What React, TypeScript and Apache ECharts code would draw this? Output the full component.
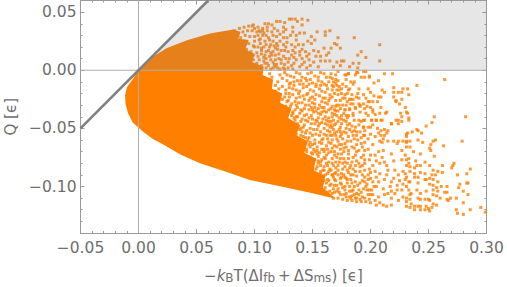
import React, { useEffect, useRef } from "react";
import * as echarts from "echarts";

const xTicks = [-0.05, 0, 0.05, 0.1, 0.15, 0.2, 0.25, 0.3];
const xMinor = [-0.04,-0.03,-0.02,-0.01,0.01,0.02,0.03,0.04,0.06,0.07,0.08,0.09,0.11,0.12,0.13,0.14,0.16,0.17,0.18,0.19,0.21,0.22,0.23,0.24,0.26,0.27,0.28,0.29];
const yTicks = [-0.1, -0.05, 0, 0.05];
const yMinor = [-0.13,-0.12,-0.11,-0.09,-0.08,-0.07,-0.06,-0.04,-0.03,-0.02,-0.01,0.01,0.02,0.03,0.04];

const diagonal = [[-0.05,-0.05],[0.06,0.06]];
const heatRegion = [[0,0],[0.06,0.06],[0.3,0.06],[0.3,0]];
const denseBlob = [[-0.0116,-0.0215],[-0.01,-0.0146],[-0.0045,-0.007],[0,0],[0.012,0.0115],[0.0241,0.0189],[0.0418,0.0258],[0.0616,0.0316],[0.0817,0.035],[0.088,0.033],[0.086,0.027],[0.095,0.026],[0.092,0.018],[0.1,0.014],[0.098,0.007],[0.108,0.003],[0.107,-0.004],[0.116,-0.008],[0.115,-0.016],[0.124,-0.02],[0.122,-0.028],[0.132,-0.033],[0.129,-0.041],[0.139,-0.047],[0.136,-0.056],[0.146,-0.061],[0.143,-0.071],[0.153,-0.076],[0.151,-0.086],[0.161,-0.091],[0.159,-0.101],[0.17,-0.1105],[0.15,-0.1057],[0.125,-0.1005],[0.096,-0.0945],[0.076,-0.0876],[0.053,-0.08],[0.036,-0.0725],[0.021,-0.0636],[0.012,-0.059],[0.004,-0.053],[-0.005,-0.045],[-0.009,-0.037],[-0.0112,-0.029]];

const pointsAboveEdge = [[.083,.034],[.087,.036],[.091,.037],[.095,.038],[.098,.038],[.103,.037],[.107,.036],[.086,.032],[.09,.033],[.094,.034],[.098,.034],[.103,.03],[.107,.034],[.111,.034],[.115,.033],[.12,.034],[.125,.033],[.088,.028],[.092,.03],[.096,.029],[.1,.025],[.105,.023],[.11,.022],[.114,.022],[.12,.018],[.125,.028],[.086,.024],[.091,.025],[.095,.023],[.099,.021],[.103,.02],[.108,.02],[.113,.02],[.089,.019],[.093,.018],[.097,.016],[.102,.015],[.106,.014],[.11,.01],[.114,.009],[.118,.013],[.123,.009],[.091,.013],[.095,.011],[.099,.009],[.104,.009],[.108,.008],[.112,.004],[.116,.002],[.12,.002],[.094,.006],[.098,.005],[.102,.003],[.106,.004]];

const pointsUpper = [[.099,.039],[.109,.04],[.112,.04],[.115,.039],[.119,.042],[.122,.042],[.126,.041],[.13,.044],[.132,.044],[.135,.044],[.141,.044],[.146,.043],[.137,.042],[.141,.039],[.133,.037],[.133,.033],[.139,.032],[.143,.032],[.154,.033],[.165,.034],[.161,.033],[.161,.03],[.172,.028],[.186,.028],[.208,.022],[.149,.029],[.136,.026],[.128,.028],[.119,.029],[.113,.026],[.108,.032],[.102,.033],[.1,.029],[.105,.027],[.119,.023],[.125,.022],[.132,.022],[.138,.022],[.142,.022],[.149,.023],[.169,.023],[.171,.022],[.174,.019],[.166,.019],[.16,.019],[.155,.016],[.151,.017],[.144,.016],[.139,.016],[.133,.017],[.129,.016],[.123,.017],[.118,.019],[.112,.017],[.106,.017],[.1,.02],[.192,.016],[.189,.013],[.196,.011],[.208,.008],[.164,.015],[.162,.013],[.157,.012],[.153,.012],[.145,.012],[.139,.013],[.132,.013],[.125,.012],[.121,.01],[.115,.013],[.109,.013],[.103,.012],[.099,.013],[.165,.008],[.175,.008],[.177,.008],[.171,.007],[.161,.008],[.157,.008],[.151,.007],[.143,.007],[.136,.009],[.129,.007],[.123,.006],[.116,.007],[.109,.006],[.102,.006],[.185,.006],[.19,.006],[.182,.003],[.189,.002],[.174,.004],[.168,.003],[.155,.003],[.148,.004],[.139,.003],[.132,.004],[.125,.002],[.118,.003],[.11,.002],[.103,.002],[.098,.002]];

const pointsUpperExtra = [[.1,.036],[.105,.033],[.11,.03],[.116,.03],[.122,.031],[.127,.035],[.104,.026],[.109,.025],[.116,.025],[.122,.025],[.128,.024],[.106,.019],[.11,.016],[.116,.016],[.12,.021],[.127,.02],[.135,.02],[.108,.011],[.113,.012],[.118,.009],[.127,.01],[.134,.011],[.141,.01],[.111,.006],[.119,.005],[.126,.005],[.134,.006],[.141,.005],[.147,.009],[.106,.001],[.114,.001],[.122,.001],[.129,.002],[.107,.03],[.112,.028],[.117,.021],[.121,.014],[.126,.017],[.13,.01],[.135,.015],[.141,.018],[.147,.014],[.125,.037],[.117,.036],[.111,.037],[.131,.03],[.136,.03],[.146,.025],[.152,.026],[.104,.034],[.114,.015],[.117,.005],[.126,.001],[.133,.001],[.145,.002]];

const pointsRightMiddle = [[.212,-.003],[.219,-.003],[.264,-.008],[.24,-.013],[.282,-.04],[.255,-.04],[.253,-.045],[.248,-.048],[.24,-.051],[.236,-.053],[.231,-.036],[.233,-.041],[.233,-.043],[.226,-.037],[.224,-.043],[.224,-.046],[.218,-.046],[.213,-.037],[.209,-.032],[.228,-.061],[.224,-.061],[.22,-.061],[.215,-.061],[.208,-.061],[.209,-.052],[.215,-.052],[.212,-.056],[.209,-.056],[.205,-.043],[.209,-.043],[.201,-.043],[.194,-.043],[.198,-.049],[.194,-.049],[.188,-.053],[.195,-.056],[.182,-.051],[.174,-.053],[.179,-.044],[.22,-.015],[.228,-.016],[.232,-.016],[.227,-.019],[.224,-.019],[.22,-.019],[.22,-.023],[.233,-.021],[.222,-.026],[.222,-.027],[.227,-.025],[.225,-.029],[.23,-.032],[.21,-.017],[.212,-.019],[.209,-.023],[.207,-.023],[.199,-.006],[.192,-.006],[.196,-.001],[.189,-.002],[.181,-.003],[.178,-.004],[.187,-.004],[.186,-.01],[.185,-.012],[.203,-.011],[.207,-.009],[.198,-.016],[.19,-.016],[.182,-.016],[.181,-.017],[.189,-.02],[.188,-.023],[.183,-.025],[.18,-.027],[.199,-.027],[.206,-.027],[.202,-.034],[.197,-.031],[.191,-.03],[.187,-.032],[.182,-.033],[.178,-.034],[.191,-.036],[.185,-.037],[.179,-.039],[.166,-.003],[.17,-.004],[.172,-.001],[.179,-.004],[.181,-.003],[.188,-.002],[.194,-.001],[.195,-.006],[.199,-.005],[.167,-.007],[.17,-.008],[.168,-.01],[.172,-.009],[.167,-.013],[.171,-.013],[.173,-.014],[.167,-.017],[.171,-.017],[.172,-.021],[.167,-.023],[.174,-.026],[.178,-.024],[.182,-.025],[.185,-.025],[.19,-.024],[.202,-.027],[.198,-.027],[.194,-.029],[.19,-.029],[.185,-.029],[.179,-.03],[.171,-.03],[.167,-.031],[.174,-.033],[.169,-.034],[.178,-.034],[.182,-.034],[.187,-.033],[.191,-.031],[.195,-.033],[.202,-.036],[.208,-.037],[.214,-.036],[.232,-.037],[.227,-.04],[.222,-.043],[.227,-.044],[.218,-.046],[.21,-.043],[.205,-.043],[.201,-.043],[.195,-.043],[.192,-.044],[.19,-.043],[.185,-.039],[.181,-.039],[.175,-.039],[.171,-.039],[.167,-.037],[.177,-.043],[.172,-.044],[.168,-.043],[.182,-.046],[.187,-.049],[.194,-.049],[.2,-.049],[.179,-.05],[.174,-.049],[.169,-.047],[.167,-.049],[.177,-.053],[.171,-.053],[.184,-.053],[.188,-.056],[.194,-.056],[.207,-.054],[.212,-.051],[.214,-.054],[.232,-.054],[.231,-.057],[.211,-.059],[.167,-.056],[.174,-.057],[.181,-.057],[.198,-.059]];

const pointsRightLower = [[.195,-.069],[.202,-.064],[.207,-.07],[.211,-.069],[.218,-.072],[.227,-.069],[.231,-.062],[.223,-.063],[.21,-.062],[.2,-.073],[.195,-.077],[.202,-.082],[.208,-.08],[.212,-.079],[.22,-.078],[.227,-.077],[.233,-.076],[.204,-.087],[.208,-.089],[.215,-.086],[.221,-.086],[.228,-.087],[.234,-.083],[.195,-.086],[.198,-.09],[.202,-.096],[.207,-.096],[.212,-.094],[.22,-.093],[.23,-.094],[.234,-.096],[.195,-.096],[.191,-.097],[.201,-.103],[.205,-.1],[.211,-.102],[.217,-.1],[.223,-.099],[.227,-.103],[.233,-.103],[.2,-.107],[.202,-.107],[.207,-.109],[.215,-.106],[.221,-.106],[.228,-.109],[.194,-.102],[.197,-.103],[.19,-.103],[.195,-.11],[.191,-.111],[.204,-.112],[.208,-.114],[.205,-.116],[.211,-.116],[.218,-.11],[.224,-.112],[.231,-.113],[.192,-.063],[.19,-.069],[.187,-.073],[.19,-.08],[.191,-.087],[.185,-.09],[.187,-.096],[.185,-.103],[.182,-.109],[.187,-.11],[.179,-.109],[.177,-.107],[.174,-.107],[.19,-.107],[.184,-.097],[.179,-.093],[.182,-.084],[.181,-.076],[.184,-.066],[.178,-.063],[.177,-.07],[.174,-.076],[.178,-.083],[.175,-.089],[.171,-.066],[.169,-.073],[.168,-.082],[.172,-.086],[.169,-.094],[.174,-.097],[.168,-.102],[.178,-.1],[.171,-.104],[.167,-.106],[.167,-.09],[.167,-.067],[.175,-.064],[.181,-.069],[.172,-.082],[.169,-.089]];

const pointsFarRight = [[.231,-.055],[.241,-.052],[.244,-.054],[.231,-.061],[.234,-.061],[.241,-.06],[.245,-.062],[.252,-.064],[.254,-.061],[.256,-.06],[.263,-.065],[.279,-.061],[.231,-.066],[.234,-.066],[.251,-.067],[.252,-.069],[.237,-.07],[.243,-.072],[.23,-.073],[.255,-.074],[.231,-.077],[.239,-.078],[.247,-.079],[.251,-.082],[.272,-.08],[.271,-.082],[.27,-.084],[.262,-.082],[.233,-.08],[.231,-.082],[.24,-.082],[.243,-.082],[.238,-.084],[.286,-.085],[.275,-.09],[.283,-.089],[.254,-.086],[.258,-.087],[.262,-.088],[.238,-.089],[.243,-.088],[.247,-.089],[.253,-.09],[.256,-.09],[.234,-.087],[.23,-.089],[.231,-.092],[.238,-.092],[.241,-.092],[.251,-.093],[.254,-.094],[.258,-.096],[.247,-.094],[.248,-.094],[.233,-.096],[.231,-.1],[.241,-.097],[.251,-.098],[.254,-.099],[.277,-.098],[.276,-.101],[.283,-.097],[.284,-.097],[.266,-.1],[.261,-.1],[.257,-.101],[.258,-.104],[.254,-.103],[.248,-.104],[.24,-.103],[.243,-.106],[.235,-.106],[.234,-.107],[.264,-.105],[.266,-.105],[.28,-.104],[.284,-.107],[.254,-.107],[.257,-.108],[.26,-.11],[.266,-.111],[.267,-.112],[.274,-.11],[.269,-.11],[.28,-.114],[.231,-.11],[.234,-.111],[.241,-.11],[.243,-.111],[.247,-.111],[.25,-.111],[.251,-.112],[.254,-.115],[.257,-.116],[.235,-.115],[.231,-.117],[.234,-.118],[.238,-.117],[.241,-.117],[.243,-.117],[.248,-.117],[.25,-.119],[.253,-.118],[.238,-.12],[.243,-.12],[.247,-.12],[.251,-.121],[.274,-.12],[.275,-.123],[.28,-.124],[.286,-.12],[.295,-.118],[.299,-.122]];

const pointsCentre = [[.126,-.002],[.131,-.005],[.136,-.002],[.141,-.006],[.146,-.003],[.152,-.005],[.157,-.002],[.162,-.006],[.128,-.009],[.134,-.01],[.139,-.012],[.145,-.009],[.15,-.011],[.155,-.009],[.16,-.012],[.164,-.01],[.124,-.014],[.13,-.015],[.136,-.017],[.142,-.015],[.148,-.017],[.153,-.014],[.158,-.018],[.163,-.016],[.127,-.02],[.133,-.021],[.139,-.023],[.145,-.021],[.15,-.023],[.156,-.022],[.161,-.024],[.165,-.021],[.129,-.026],[.135,-.027],[.141,-.028],[.147,-.026],[.152,-.029],[.158,-.027],[.163,-.029],[.131,-.031],[.137,-.032],[.143,-.033],[.149,-.032],[.155,-.033],[.16,-.032],[.133,-.036],[.139,-.037],[.145,-.038],[.151,-.036],[.157,-.038],[.162,-.036],[.134,-.041],[.141,-.042],[.147,-.041],[.153,-.043],[.159,-.042],[.164,-.041],[.137,-.046],[.143,-.047],[.149,-.046],[.155,-.048],[.161,-.046],[.165,-.049],[.139,-.051],[.145,-.052],[.151,-.051],[.157,-.053],[.163,-.052],[.14,-.056],[.147,-.058],[.153,-.055],[.159,-.059],[.165,-.056],[.143,-.062],[.15,-.064],[.156,-.062],[.162,-.065],[.138,-.066],[.145,-.068],[.152,-.07],[.158,-.068],[.164,-.071],[.141,-.072],[.148,-.075],[.155,-.074],[.161,-.076],[.143,-.078],[.15,-.08],[.157,-.079],[.163,-.082],[.146,-.084],[.153,-.085],[.159,-.086],[.165,-.085],[.149,-.089],[.155,-.091],[.161,-.09],[.152,-.095],[.158,-.096],[.164,-.095],[.156,-.099],[.161,-.101],[.165,-.099],[.16,-.104],[.163,-.105],[.168,-.11],[.172,-.11],[.176,-.111],[.18,-.112],[.184,-.112],[.188,-.113],[.192,-.113],[.196,-.113],[.2,-.114],[.214,-.117],[.218,-.116]];

const pointsCentreExtra = [[.128,-.004],[.134,-.006],[.139,-.003],[.144,-.007],[.149,-.002],[.155,-.006],[.16,-.003],[.165,-.006],[.17,-.011],[.131,-.011],[.137,-.009],[.142,-.012],[.148,-.008],[.153,-.012],[.158,-.01],[.162,-.013],[.127,-.017],[.133,-.016],[.139,-.018],[.145,-.014],[.151,-.018],[.156,-.016],[.161,-.019],[.169,-.02],[.175,-.016],[.178,-.021],[.13,-.023],[.136,-.024],[.142,-.022],[.148,-.024],[.153,-.021],[.159,-.024],[.164,-.026],[.17,-.026],[.176,-.03],[.183,-.029],[.132,-.029],[.138,-.028],[.144,-.03],[.15,-.028],[.156,-.03],[.161,-.028],[.166,-.033],[.172,-.035],[.177,-.037],[.135,-.034],[.141,-.035],[.147,-.034],[.153,-.035],[.158,-.036],[.164,-.034],[.169,-.038],[.173,-.041],[.18,-.041],[.186,-.043],[.137,-.04],[.143,-.039],[.149,-.039],[.155,-.041],[.161,-.04],[.166,-.044],[.17,-.046],[.175,-.046],[.184,-.048],[.19,-.047],[.14,-.044],[.146,-.044],[.152,-.046],[.158,-.045],[.163,-.047],[.168,-.051],[.173,-.051],[.179,-.054],[.185,-.056],[.191,-.053],[.142,-.049],[.148,-.05],[.154,-.051],[.16,-.05],[.165,-.053],[.17,-.056],[.176,-.059],[.183,-.061],[.189,-.06],[.195,-.062],[.144,-.054],[.15,-.056],[.156,-.056],[.162,-.056],[.167,-.06],[.172,-.061],[.179,-.066],[.186,-.067],[.193,-.066],[.198,-.068],[.146,-.06],[.152,-.06],[.158,-.063],[.164,-.062],[.169,-.065],[.174,-.068],[.181,-.072],[.188,-.078],[.194,-.073],[.199,-.077],[.148,-.066],[.154,-.066],[.16,-.068],[.166,-.07],[.172,-.072],[.177,-.076],[.184,-.079],[.193,-.082],[.199,-.085],[.15,-.072],[.156,-.071],[.162,-.073],[.167,-.076],[.173,-.079],[.18,-.08],[.185,-.085],[.193,-.09],[.2,-.093],[.152,-.077],[.158,-.077],[.164,-.079],[.17,-.084],[.176,-.085],[.181,-.088],[.188,-.091],[.195,-.092],[.154,-.083],[.16,-.083],[.166,-.086],[.172,-.09],[.178,-.092],[.183,-.094],[.189,-.099],[.197,-.098],[.157,-.089],[.163,-.089],[.168,-.092],[.174,-.093],[.18,-.097],[.186,-.1],[.192,-.105],[.198,-.107],[.16,-.095],[.166,-.098],[.171,-.099],[.176,-.101],[.182,-.104],[.188,-.106],[.193,-.109],[.199,-.111],[.169,-.105],[.173,-.105],[.179,-.106],[.184,-.108],[.188,-.11],[.183,-.11]];

const pointsCentreThird = [[.125,-.037],[.128,-.042],[.131,-.046],[.133,-.05],[.136,-.055],[.139,-.059],[.142,-.064],[.145,-.07],[.148,-.08],[.15,-.085],[.153,-.09],[.157,-.094],[.118,-.018],[.121,-.022],[.124,-.025],[.127,-.031],[.12,-.01],[.115,-.006],[.122,-.004],[.129,-.035],[.132,-.039],[.135,-.043],[.138,-.048],[.141,-.053],[.144,-.058],[.148,-.062],[.151,-.068],[.154,-.072],[.157,-.082],[.159,-.091],[.162,-.097],[.134,-.013],[.138,-.02],[.143,-.025],[.147,-.03],[.152,-.032],[.155,-.037],[.16,-.035],[.164,-.044],[.167,-.04],[.17,-.035],[.173,-.03],[.176,-.024],[.18,-.02],[.184,-.021],[.173,-.017],[.176,-.012],[.179,-.008],[.15,-.042],[.156,-.046],[.16,-.055],[.163,-.059],[.166,-.063],[.169,-.07],[.171,-.075],[.175,-.072],[.178,-.079],[.176,-.08],[.18,-.086],[.185,-.075],[.188,-.064],[.186,-.059],[.18,-.061],[.175,-.055],[.171,-.059],[.16,-.07],[.155,-.078],[.162,-.08],[.167,-.08],[.164,-.087],[.17,-.088],[.175,-.092],[.17,-.095],[.175,-.098],[.172,-.102],[.178,-.103],[.182,-.1],[.183,-.09],[.187,-.087],[.191,-.083],[.195,-.08],[.187,-.082],[.193,-.095],[.196,-.1],[.199,-.103],[.203,-.1],[.186,-.107],[.184,-.104],[.2,-.088],[.198,-.094],[.205,-.092],[.205,-.078],[.21,-.075],[.204,-.073],[.214,-.082],[.224,-.09],[.218,-.096],[.225,-.095],[.214,-.09],[.212,-.107],[.218,-.104],[.223,-.103],[.228,-.098],[.195,-.052],[.2,-.055],[.204,-.057],[.202,-.047],[.206,-.05],[.204,-.038],[.198,-.039],[.196,-.037],[.2,-.032],[.194,-.021],[.2,-.019],[.203,-.022],[.196,-.024]];

const pointsNearEdge = [[.113,-.003],[.118,-.013],[.121,-.016],[.126,-.023],[.128,-.027],[.133,-.037],[.136,-.04],[.14,-.05],[.142,-.057],[.147,-.064],[.149,-.071],[.155,-.08],[.157,-.087],[.163,-.094],[.165,-.104],[.124,-.007],[.13,-.012],[.13,-.02],[.136,-.03],[.14,-.034],[.144,-.043],[.148,-.054],[.152,-.063],[.154,-.069],[.16,-.075],[.16,-.086],[.167,-.09],[.169,-.099],[.163,-.068],[.158,-.06],[.154,-.044],[.15,-.034],[.146,-.02],[.14,-.009],[.147,-.012],[.152,-.025],[.158,-.032],[.162,-.043],[.166,-.047],[.169,-.054],[.173,-.064],[.177,-.067],[.17,-.079],[.177,-.09],[.18,-.094],[.183,-.082],[.188,-.07],[.192,-.075],[.186,-.052],[.192,-.058],[.18,-.047],[.175,-.042],[.17,-.031],[.165,-.024],[.157,-.013],[.168,-.014],[.175,-.02],[.179,-.014],[.183,-.01]];

const allPoints = [...pointsAboveEdge, ...pointsUpper, ...pointsUpperExtra, ...pointsRightMiddle, ...pointsRightLower, ...pointsFarRight, ...pointsCentre, ...pointsCentreExtra, ...pointsCentreThird, ...pointsNearEdge];

const TICK = "#9a9a9a";
const TEXT = "#6e6e6e";
const FONT = "DejaVu Sans";

function polygonSeries(points: number[][], fill: string, z: number) {
  return {
    type: "custom",
    coordinateSystem: "cartesian2d",
    clip: true,
    z,
    silent: true,
    data: [[points[0][0], points[0][1]]],
    renderItem: (_p: any, api: any) => ({
      type: "polygon",
      shape: { points: points.map((d) => api.coord(d)) },
      style: { fill },
    }),
  };
}

function lineSeries(data: number[][], color: string, width: number, z: number) {
  return {
    type: "line",
    data,
    z,
    symbol: "none",
    silent: true,
    lineStyle: { color, width },
  };
}

function fmt(v: number) {
  const s = Math.abs(v).toFixed(2);
  return v < -1e-9 ? "\u2212" + s : s;
}

function xAxisOf(position: string, values: number[], length: number, labels: boolean, extra: any = {}) {
  return {
    type: "value",
    min: -0.05,
    max: 0.3,
    position,
    axisLine: { show: true, onZero: false, lineStyle: { color: TICK, width: 1 } },
    axisTick: { show: true, inside: true, length, customValues: values, lineStyle: { color: TICK } },
    axisLabel: labels
      ? { show: true, customValues: xTicks, color: TEXT, fontFamily: FONT, fontSize: 15.5, margin: 7, formatter: fmt, hideOverlap: false, showMinLabel: true, showMaxLabel: true }
      : { show: false },
    splitLine: { show: false },
    ...extra,
  };
}

function yAxisOf(position: string, values: number[], length: number, labels: boolean, extra: any = {}) {
  return {
    type: "value",
    min: -0.14,
    max: 0.06,
    position,
    axisLine: { show: true, onZero: false, lineStyle: { color: TICK, width: 1 } },
    axisTick: { show: true, inside: true, length, customValues: values, lineStyle: { color: TICK } },
    axisLabel: labels
      ? { show: true, customValues: yTicks, color: TEXT, fontFamily: FONT, fontSize: 15.5, margin: 4, formatter: fmt, hideOverlap: false }
      : { show: false },
    splitLine: { show: false },
    ...extra,
  };
}

export default function App() {
  const ref = useRef<HTMLDivElement>(null);
  useEffect(() => {
    document.body.style.margin = "0";
    document.body.style.background = "#fff";
    const chart = echarts.init(ref.current!, undefined, { renderer: "svg" });
    const sub = { fontSize: 12, fontFamily: FONT, color: TEXT, padding: [5, 0, 0, 0] };
    const main = { fontSize: 15, fontFamily: FONT, color: TEXT };
    chart.setOption({
      animation: false,
      grid: { left: 80.5, right: 20.5, top: 0.5, bottom: 54, containLabel: false, outerBoundsMode: "none" },
      xAxis: [
        xAxisOf("bottom", xTicks, 4, true, {
          name: "{m|\u2212}{i|k}{s|B}{m|T(\u0394I}{s|fb}{m|\u2009+\u2009\u0394S}{s|ms}{m|) [\u03F5]}",
          nameLocation: "middle",
          nameGap: 34,
          nameTextStyle: {
            rich: { m: main, i: { ...main, fontStyle: "italic" }, s: sub },
          },
        }),
        xAxisOf("bottom", xMinor, 2, false),
        xAxisOf("top", xTicks, 4, false),
        xAxisOf("top", xMinor, 2, false),
      ],
      yAxis: [
        yAxisOf("left", yTicks, 4, true, {
          name: "Q [\u03F5]",
          nameLocation: "middle",
          nameGap: 59,
          nameTextStyle: { color: TEXT, fontFamily: FONT, fontSize: 15 },
        }),
        yAxisOf("left", yMinor, 2, false),
        yAxisOf("right", yTicks, 4, false),
        yAxisOf("right", yMinor, 2, false),
      ],
      series: [
        polygonSeries(denseBlob, "#ff8000", 2),
        {
          type: "scatter",
          data: allPoints,
          z: 3,
          symbol: "rect",
          symbolSize: 3,
          silent: true,
          itemStyle: { color: "#ff8000" },
        },
        polygonSeries(heatRegion, "rgba(128,128,128,0.2)", 4),
        lineSeries([[0, -0.14], [0, 0.06]], "#adadad", 1, 5),
        lineSeries([[-0.05, 0], [0.3, 0]], "#adadad", 1, 5),
        lineSeries(diagonal, "#808080", 2.6, 6),
      ],
    });
    return () => chart.dispose();
  }, []);
  return <div ref={ref} style={{ width: 507, height: 287 }} />;
}
